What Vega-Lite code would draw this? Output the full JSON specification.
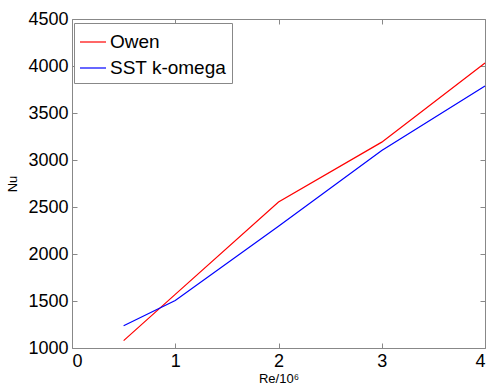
{
  "$schema": "https://vega.github.io/schema/vega-lite/v6.json",
  "autosize": "none",
  "width": 413,
  "height": 329,
  "padding": {"left": 72, "top": 19, "right": 5, "bottom": 42},
  "background": "white",
  "config": {
    "font": "Liberation Sans",
    "view": {"stroke": "#888888", "strokeWidth": 1},
    "axis": {
      "grid": false,
      "zindex": 1,
      "labelFont": "Liberation Sans",
      "labelFontSize": 18,
      "labelColor": "#000000",
      "titleFont": "Liberation Sans",
      "titleFontWeight": "normal",
      "titleFontSize": 13,
      "titleColor": "#000000"
    }
  },
  "data": {
    "values": [
      {"re": 0.5, "nu": 1078, "series": "Owen"},
      {"re": 1, "nu": 1570, "series": "Owen"},
      {"re": 2, "nu": 2553, "series": "Owen"},
      {"re": 3, "nu": 3190, "series": "Owen"},
      {"re": 4, "nu": 4032, "series": "Owen"},
      {"re": 0.5, "nu": 1237, "series": "SST k-omega"},
      {"re": 1, "nu": 1505, "series": "SST k-omega"},
      {"re": 2, "nu": 2295, "series": "SST k-omega"},
      {"re": 3, "nu": 3100, "series": "SST k-omega"},
      {"re": 4, "nu": 3788, "series": "SST k-omega"}
    ]
  },
  "layer": [
    {
      "mark": {"type": "line", "strokeWidth": 1.2},
      "encoding": {
        "x": {
          "field": "re", "type": "quantitative",
          "scale": {"domain": [0, 4], "nice": false},
          "axis": {"orient": "bottom", "values": [0, 1, 2, 3, 4], "format": "d", "ticks": true, "tickSize": -5, "tickColor": "#888888", "tickWidth": 1, "domain": false, "labelPadding": 9, "title": "Re/10⁶", "titlePadding": 2}
        },
        "y": {
          "field": "nu", "type": "quantitative",
          "scale": {"domain": [1000, 4500], "nice": false, "zero": false},
          "axis": {"orient": "left", "values": [1000, 1500, 2000, 2500, 3000, 3500, 4000, 4500], "format": "d", "ticks": true, "tickSize": -5, "tickColor": "#888888", "tickWidth": 1, "domain": false, "labelPadding": 9, "title": "Nu", "titlePadding": 8}
        },
        "color": {
          "field": "series", "type": "nominal",
          "scale": {"domain": ["Owen", "SST k-omega"], "range": ["#ff0000", "#0000ff"]},
          "legend": {
            "title": null,
            "orient": "none",
            "legendX": 2,
            "legendY": 4,
            "symbolType": "stroke",
            "symbolSize": 680,
            "symbolStrokeWidth": 1.2,
            "labelFontSize": 19,
            "labelFont": "Liberation Sans",
            "labelColor": "#000000",
            "strokeColor": "#888888",
            "fillColor": "white",
            "padding": 5,
            "rowPadding": 2,
            "labelOffset": 3
          }
        }
      }
    },
    {
      "mark": {"type": "line", "opacity": 0},
      "encoding": {
        "x": {
          "field": "re", "type": "quantitative",
          "axis": {"orient": "top", "values": [0, 1, 2, 3, 4], "ticks": true, "tickSize": -5, "tickColor": "#888888", "tickWidth": 1, "domain": false, "labels": false, "title": null}
        },
        "y": {
          "field": "nu", "type": "quantitative",
          "axis": {"orient": "right", "values": [1000, 1500, 2000, 2500, 3000, 3500, 4000, 4500], "ticks": true, "tickSize": -5, "tickColor": "#888888", "tickWidth": 1, "domain": false, "labels": false, "title": null}
        }
      }
    }
  ],
  "resolve": {"axis": {"x": "independent", "y": "independent"}}
}
